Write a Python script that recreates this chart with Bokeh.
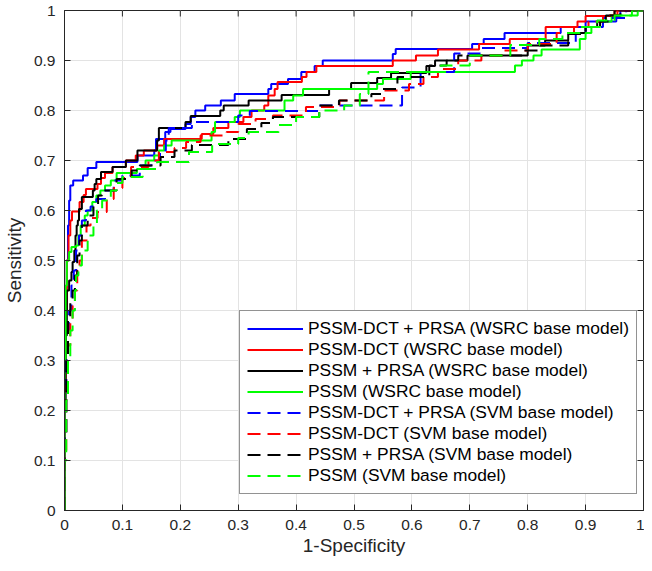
import math
from bokeh.plotting import figure
from bokeh.models import Range1d, FixedTicker, Legend, LegendItem
from bokeh.embed import file_html
from bokeh.resources import INLINE

# ---- data ----
bw_x = [0, 0, 0.002, 0.004, 0.006, 0.008, 0.010, 0.015, 0.032, 0.040, 0.055, 0.126, 0.155, 0.158, 0.174, 0.183, 0.209, 0.218, 0.226, 0.243, 0.270, 0.294, 0.352, 0.357, 0.386, 0.409, 0.432, 0.446, 0.567, 0.572, 0.704, 0.724, 0.760, 0.857, 0.900, 0.953, 0.960, 1.0]
bw_y = [0, 0.30, 0.40, 0.50, 0.57, 0.62, 0.65, 0.66, 0.67, 0.685, 0.697, 0.71, 0.72, 0.743, 0.757, 0.763, 0.773, 0.787, 0.80, 0.81, 0.82, 0.833, 0.843, 0.853, 0.863, 0.877, 0.889, 0.90, 0.913, 0.923, 0.933, 0.943, 0.955, 0.967, 0.978, 0.99, 1.0, 1.0]

rw_x = [0, 0, 0.002, 0.004, 0.007, 0.010, 0.013, 0.026, 0.033, 0.037, 0.057, 0.063, 0.070, 0.083, 0.106, 0.123, 0.137, 0.160, 0.172, 0.237, 0.257, 0.283, 0.309, 0.323, 0.345, 0.352, 0.363, 0.368, 0.410, 0.418, 0.435, 0.567, 0.607, 0.645, 0.716, 0.769, 0.831, 0.886, 0.900, 0.950, 1.0]
rw_y = [0, 0.25, 0.40, 0.50, 0.55, 0.58, 0.598, 0.617, 0.631, 0.643, 0.653, 0.665, 0.675, 0.687, 0.70, 0.71, 0.72, 0.73, 0.743, 0.753, 0.765, 0.777, 0.787, 0.80, 0.81, 0.83, 0.843, 0.857, 0.867, 0.877, 0.889, 0.90, 0.91, 0.922, 0.933, 0.943, 0.967, 0.978, 0.989, 1.0, 1.0]

kw_x = [0, 0, 0.002, 0.004, 0.008, 0.012, 0.014, 0.017, 0.019, 0.021, 0.023, 0.025, 0.030, 0.049, 0.052, 0.055, 0.063, 0.083, 0.106, 0.126, 0.160, 0.163, 0.209, 0.218, 0.269, 0.275, 0.318, 0.375, 0.457, 0.495, 0.540, 0.564, 0.625, 0.640, 0.696, 0.800, 0.830, 0.870, 0.900, 0.920, 0.935, 0.950, 1.0]
kw_y = [0, 0.20, 0.35, 0.44, 0.46, 0.477, 0.497, 0.52, 0.55, 0.57, 0.58, 0.603, 0.627, 0.64, 0.653, 0.663, 0.677, 0.687, 0.70, 0.72, 0.74, 0.765, 0.777, 0.789, 0.80, 0.81, 0.82, 0.831, 0.843, 0.855, 0.865, 0.875, 0.889, 0.90, 0.91, 0.93, 0.94, 0.955, 0.967, 0.978, 0.99, 1.0, 1.0]

gw_x = [0, 0, 0.002, 0.004, 0.008, 0.012, 0.020, 0.024, 0.028, 0.035, 0.040, 0.048, 0.055, 0.062, 0.070, 0.080, 0.090, 0.125, 0.135, 0.140, 0.155, 0.163, 0.172, 0.185, 0.254, 0.260, 0.294, 0.303, 0.380, 0.395, 0.412, 0.540, 0.550, 0.598, 0.778, 0.790, 0.810, 0.824, 0.890, 0.900, 0.910, 0.925, 0.945, 0.990, 1.0]
gw_y = [0, 0.30, 0.45, 0.50, 0.517, 0.527, 0.53, 0.55, 0.57, 0.59, 0.60, 0.617, 0.63, 0.64, 0.65, 0.66, 0.675, 0.683, 0.69, 0.70, 0.71, 0.72, 0.73, 0.74, 0.757, 0.777, 0.787, 0.80, 0.82, 0.83, 0.843, 0.853, 0.863, 0.877, 0.89, 0.90, 0.91, 0.922, 0.943, 0.955, 0.967, 0.978, 0.99, 1.0, 1.0]

bs_x = [0, 0, 0.003, 0.006, 0.008, 0.012, 0.016, 0.020, 0.025, 0.030, 0.037, 0.045, 0.055, 0.070, 0.085, 0.100, 0.130, 0.150, 0.165, 0.175, 0.180, 0.220, 0.300, 0.320, 0.440, 0.583, 0.615, 0.673, 0.720, 0.800, 0.883, 0.900, 0.930, 0.970, 1.0]
bs_y = [0, 0.15, 0.30, 0.36, 0.40, 0.45, 0.48, 0.52, 0.55, 0.58, 0.60, 0.608, 0.623, 0.64, 0.66, 0.67, 0.69, 0.70, 0.72, 0.74, 0.765, 0.777, 0.79, 0.799, 0.81, 0.846, 0.877, 0.914, 0.925, 0.935, 0.955, 0.967, 0.985, 1.0, 1.0]

rs_x = [0, 0, 0.003, 0.006, 0.010, 0.014, 0.018, 0.022, 0.026, 0.030, 0.038, 0.045, 0.057, 0.073, 0.085, 0.100, 0.115, 0.145, 0.163, 0.190, 0.210, 0.235, 0.280, 0.300, 0.330, 0.360, 0.417, 0.475, 0.552, 0.595, 0.620, 0.645, 0.680, 0.720, 0.757, 0.800, 0.850, 0.880, 0.905, 0.930, 0.955, 1.0]
rs_y = [0, 0.12, 0.25, 0.33, 0.38, 0.41, 0.44, 0.48, 0.50, 0.54, 0.57, 0.585, 0.597, 0.623, 0.645, 0.665, 0.687, 0.70, 0.717, 0.725, 0.737, 0.75, 0.757, 0.773, 0.783, 0.79, 0.807, 0.82, 0.84, 0.853, 0.867, 0.883, 0.90, 0.91, 0.92, 0.933, 0.955, 0.967, 0.978, 0.99, 1.0, 1.0]

ks_x = [0, 0, 0.003, 0.006, 0.010, 0.014, 0.018, 0.022, 0.026, 0.030, 0.040, 0.050, 0.058, 0.065, 0.090, 0.116, 0.130, 0.166, 0.190, 0.220, 0.283, 0.315, 0.340, 0.360, 0.440, 0.474, 0.530, 0.550, 0.575, 0.630, 0.660, 0.680, 0.790, 0.820, 0.870, 0.900, 0.925, 0.940, 0.960, 1.0]
ks_y = [0, 0.15, 0.30, 0.38, 0.42, 0.44, 0.47, 0.51, 0.54, 0.57, 0.59, 0.61, 0.63, 0.64, 0.663, 0.68, 0.69, 0.707, 0.72, 0.731, 0.743, 0.763, 0.775, 0.787, 0.81, 0.82, 0.833, 0.843, 0.867, 0.89, 0.90, 0.91, 0.92, 0.93, 0.953, 0.967, 0.978, 0.99, 1.0, 1.0]

gs_x = [0, 0, 0.003, 0.006, 0.010, 0.014, 0.018, 0.020, 0.024, 0.030, 0.040, 0.050, 0.056, 0.065, 0.080, 0.090, 0.100, 0.135, 0.160, 0.215, 0.255, 0.300, 0.318, 0.370, 0.400, 0.440, 0.483, 0.510, 0.525, 0.650, 0.700, 0.770, 0.820, 0.860, 0.890, 0.920, 0.950, 0.980, 1.0]
gs_y = [0, 0.10, 0.22, 0.30, 0.36, 0.40, 0.44, 0.47, 0.49, 0.52, 0.55, 0.57, 0.60, 0.62, 0.64, 0.655, 0.667, 0.683, 0.697, 0.717, 0.733, 0.745, 0.757, 0.771, 0.787, 0.80, 0.81, 0.833, 0.877, 0.89, 0.91, 0.931, 0.943, 0.955, 0.967, 0.98, 0.99, 1.0, 1.0]

series_labels = [
    "PSSM-DCT + PRSA (WSRC base model)",
    "PSSM-DCT (WSRC base model)",
    "PSSM + PRSA (WSRC base model)",
    "PSSM (WSRC base model)",
    "PSSM-DCT + PRSA (SVM base model)",
    "PSSM-DCT (SVM base model)",
    "PSSM + PRSA (SVM base model)",
    "PSSM (SVM base model)",
]
tick_values = [0, 0.1, 0.2, 0.3, 0.4, 0.5, 0.6, 0.7, 0.8, 0.9, 1]
tick_labels = ["0", "0.1", "0.2", "0.3", "0.4", "0.5", "0.6", "0.7", "0.8", "0.9", "1"]

series = [
    (bw_x, bw_y, "#0000FF", "solid"),
    (rw_x, rw_y, "#FF0000", "solid"),
    (kw_x, kw_y, "#000000", "solid"),
    (gw_x, gw_y, "#00FF00", "solid"),
    (bs_x, bs_y, "#0000FF", "13 7"),
    (rs_x, rs_y, "#FF0000", "13 7"),
    (ks_x, ks_y, "#000000", "13 7"),
    (gs_x, gs_y, "#00FF00", "13 7"),
]

FONT = "Liberation Sans"
TXT = "#262626"

p = figure(width=644, height=563, output_backend="svg", toolbar_location=None,
           x_range=Range1d(0, 1), y_range=Range1d(0, 1),
           min_border_left=60, min_border_right=1, min_border_top=10, min_border_bottom=53)
p.background_fill_color = "white"
p.border_fill_color = "white"
p.outline_line_color = TXT
p.outline_line_width = 1

overrides = {v: s for v, s in zip(tick_values, tick_labels)}
ticker = FixedTicker(ticks=tick_values)

for ax in (p.xaxis[0], p.yaxis[0]):
    ax.ticker = ticker
    ax.major_label_overrides = overrides
    ax.major_tick_in = 6
    ax.major_tick_out = 0
    ax.minor_tick_line_color = None
    ax.axis_line_color = TXT
    ax.major_tick_line_color = TXT
    ax.major_label_text_font = FONT
    ax.major_label_text_font_size = "15.5px"
    ax.major_label_text_color = TXT
    ax.axis_label_text_font = FONT
    ax.axis_label_text_font_size = "19px"
    ax.axis_label_text_font_style = "normal"
    ax.axis_label_text_color = TXT

p.xaxis[0].axis_label = "1-Specificity"
p.yaxis[0].axis_label = "Sensitivity"
p.xaxis[0].major_label_standoff = 9
p.xaxis[0].axis_label_standoff = 2
p.yaxis[0].major_label_standoff = 9
p.yaxis[0].axis_label_standoff = 6

p.grid.ticker = ticker
p.xgrid.grid_line_color = "#e3e3e3"
p.ygrid.grid_line_color = "#e3e3e3"
p.xgrid.grid_line_width = 1
p.ygrid.grid_line_width = 1

# inward ticks on the top and right edges of the box (MATLAB "box on")
n = len(tick_values)
p.ray(x=tick_values, y=[1] * n, length=6, length_units="screen",
      angle=-math.pi / 2, line_color=TXT, line_width=1)
p.ray(x=[1] * n, y=tick_values, length=6, length_units="screen",
      angle=math.pi, line_color=TXT, line_width=1)

items = []
for (xs, ys, color, dash), label in zip(series, series_labels):
    r = p.step(xs, ys, mode="after", line_color=color, line_width=2, line_dash=dash)
    items.append(LegendItem(label=label, renderers=[r]))

legend = Legend(items=items, location=(175, 16))
legend.label_text_font = FONT
legend.label_text_font_size = "17.4px"
legend.label_text_color = "#000000"
legend.glyph_width = 56
legend.glyph_height = 21
legend.label_height = 21
legend.spacing = 0
legend.padding = 7
legend.margin = 0
legend.label_standoff = 5
legend.border_line_color = TXT
legend.border_line_width = 1
legend.background_fill_color = "white"
legend.background_fill_alpha = 1
p.add_layout(legend, "center")

open("out.html", "w").write(file_html(p, INLINE))
